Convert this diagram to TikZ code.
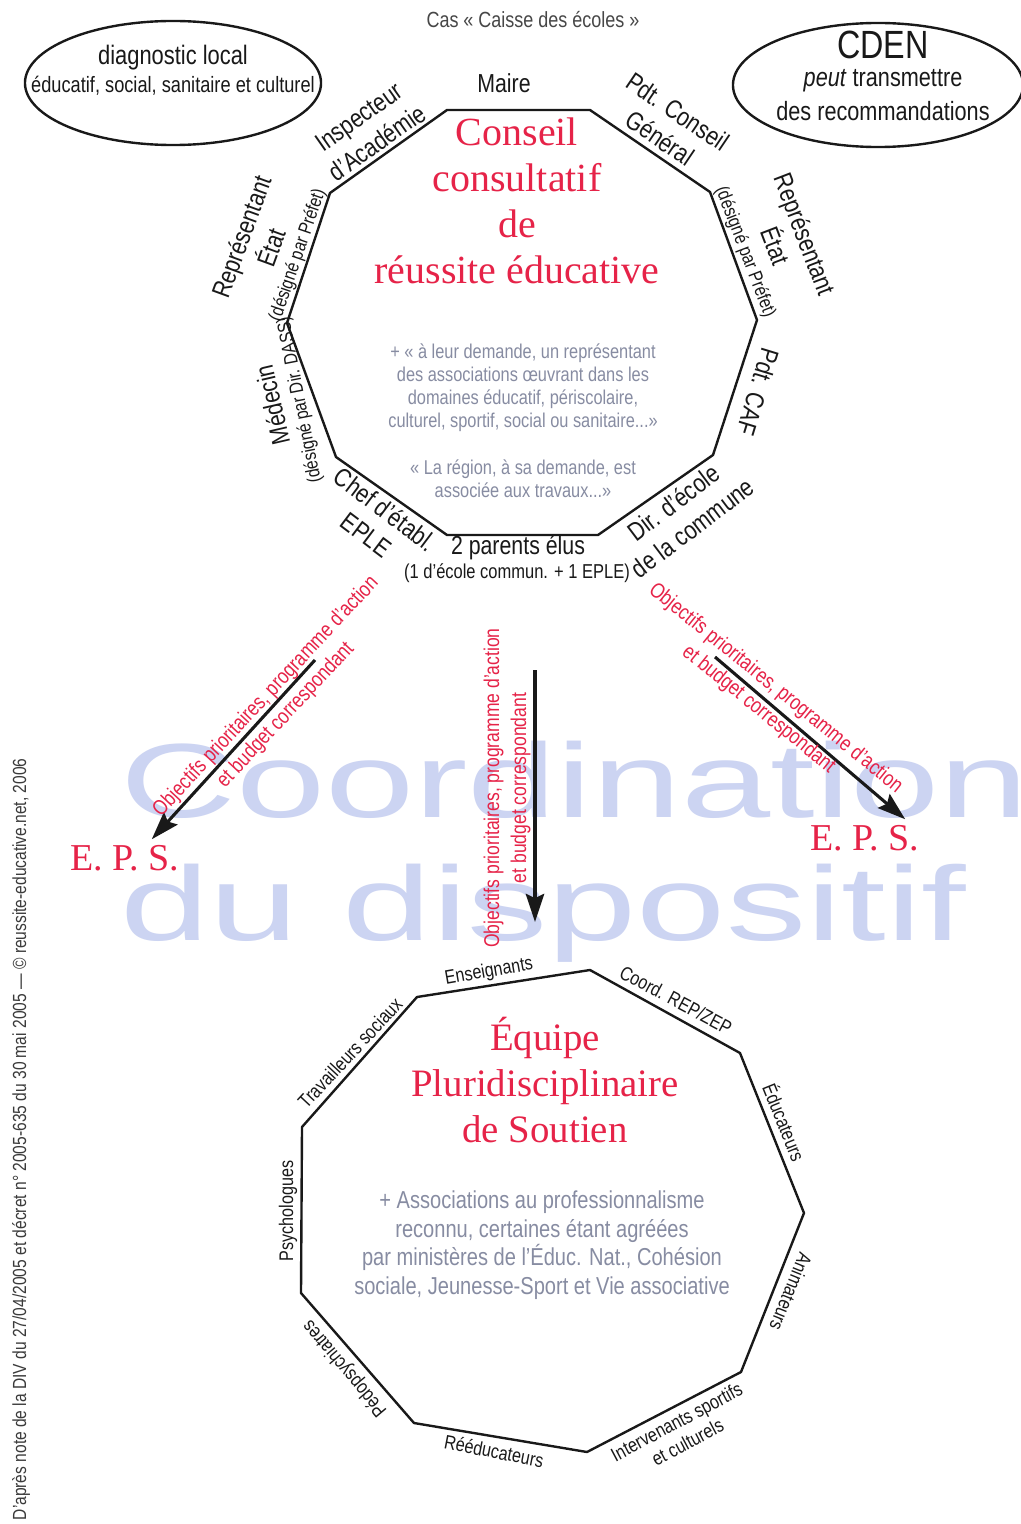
\documentclass[tikz,border=0pt]{standalone}
\usepackage{fontspec}
\usepackage{graphicx}
\setmainfont{Liberation Sans}[FakeStretch=0.82]
\newfontfamily\serifred{Liberation Serif}
\newfontfamily\wmfont{Liberation Sans}
\usetikzlibrary{shapes.geometric,arrows.meta}
\definecolor{rouge}{RGB}{230,35,72}
\definecolor{grisbleu}{RGB}{135,140,162}
\definecolor{filigrane}{RGB}{204,212,242}
\definecolor{encre}{RGB}{25,25,25}
\tikzset{
  lbl/.style={font=\fontsize{18.5}{22.5}\selectfont,text=encre,align=center,inner sep=0pt},
  petit/.style={font=\fontsize{13.6}{16}\selectfont,text=encre,inner sep=0pt},
  mini/.style={font=\fontsize{14}{16.5}\selectfont,text=encre,align=center,inner sep=0pt},
  titre/.style={font=\serifred\fontsize{28.4}{32.7}\selectfont,text=rouge,align=center,inner sep=0pt},
  note/.style={font=\fontsize{14.2}{16.4}\selectfont,text=grisbleu,align=center,inner sep=0pt},
  oblabel/.style={font=\fontsize{15.2}{19.2}\selectfont,text=rouge,align=center,inner sep=0pt},
  epsbox/.style={font=\serifred\fontsize{27}{30}\selectfont,text=rouge,inner sep=4pt},
  fleche/.style={draw=encre,line width=2.2pt,-{Stealth[length=20pt,width=13pt,inset=3pt]}},
  bord/.style={draw=encre,line width=1.7pt,line join=round},
  bulle/.style={draw=encre,line width=1.7pt,ellipse,minimum height=3.1cm},
  filig/.style={anchor=base west,inner sep=0pt,text=filigrane,font=\wmfont\fontsize{75}{75}\selectfont}
}
\begin{document}
\begin{tikzpicture}[x=0.025cm,y=-0.025cm]
\useasboundingbox (0,0) rectangle (1020,1524);
\fill[white] (0,0) rectangle (1020,1524);

\node[filig] (coord) at (120,817) {\scalebox{1.52}[1]{Coordination}};
\node[filig] (dispo) at (120,940) {\scalebox{1.52}[1]{du dispositif}};

\node[font=\fontsize{15.6}{18}\selectfont,text=encre!80,inner sep=0pt] (cas) at (533,20) {Cas « Caisse des écoles »};

\node[bulle,minimum width=7.4cm] (diag) at (173,83) {};
\node[lbl,font=\fontsize{19}{22}\selectfont] (diagA) at (173,58) {diagnostic local};
\node[lbl,font=\fontsize{15.8}{18}\selectfont] (diagB) at (173,86) {éducatif, social, sanitaire et culturel};

\node[bulle,minimum width=7.25cm] (cden) at (878,85) {};
\node[lbl,font=\fontsize{28}{30}\selectfont] (cdenA) at (883,45) {CDEN};
\node[lbl,font=\fontsize{18.8}{22}\selectfont] (cdenB) at (883,81) {\textit{peut} transmettre};
\node[lbl,font=\fontsize{18.8}{22}\selectfont] (cdenC) at (883,111) {des recommandations};

\draw[bord] (447,110) -- (590,110) -- (710,192) -- (757,320) -- (713,455) -- (598,535)
  -- (447,535) -- (336,457) -- (287,323) -- (330,193) -- cycle;

\node[lbl] (maire) at (504,83) {Maire};
\node[lbl,rotate=35] (inspec) at (368,130) {Inspecteur\\d'Académie};
\node[lbl,rotate=-34] (pdtcg) at (669,125) {Pdt. Conseil\\Général};
\node[lbl,rotate=-69] (repD) at (790,240) {Représentant\\État};
\node[petit,rotate=-69] (prefD) at (745,252) {(désigné par Préfet)};
\node[lbl,rotate=70] (repG) at (256,242) {Représentant\\État};
\node[petit,rotate=71] (prefG) at (298,255) {(désigné par Préfet)};
\node[lbl,rotate=103] (medecin) at (272,405) {Médecin};
\node[petit,rotate=101] (dass) at (300,400) {(désigné par Dir. DASS)};
\node[lbl,rotate=-37] (chef) at (376,522) {Chef d'établ.\\EPLE};
\node[lbl] (parents) at (518,548) {2 parents élus};
\node[petit,font=\fontsize{14.3}{16}\selectfont] (parentsB) at (517,573) {(1 d'école commun. + 1 EPLE)};
\node[lbl,rotate=37] (direc) at (683,515) {Dir. d'école\\de la commune};
\node[lbl,rotate=-107] (caf) at (758,392) {Pdt. CAF};

\node[titre] (conseil) at (517,201) {Conseil\\consultatif\\de\\réussite éducative};
\node[note] (assoc) at (523,388) {+ « à leur demande, un représentant\\des associations œuvrant dans les\\domaines éducatif, périscolaire,\\culturel, sportif, social ou sanitaire...»};
\node[note] (region) at (523,479) {« La région, à sa demande, est\\associée aux travaux...»};

\node[epsbox] (epsL) at (125,858) {E. P. S.};
\node[epsbox] (epsR) at (865,838) {E. P. S.};
\coordinate (srcL) at (315,660);
\coordinate (srcM) at (535,670);
\coordinate (tipM) at (535,922);
\coordinate (srcR) at (715,657);
\draw[fleche] (srcL) -- (epsL.35);
\draw[fleche] (srcM) -- (tipM);
\draw[fleche] (srcR) -- (epsR.25);
\node[oblabel,rotate=47] (obL) at (276,706) {Objectifs prioritaires, programme d'action\\et budget correspondant};
\node[oblabel,rotate=90] (obM) at (507,788) {Objectifs prioritaires, programme d'action\\et budget correspondant};
\node[oblabel,rotate=-39] (obR) at (767,699) {Objectifs prioritaires, programme d'action\\et budget correspondant};

\draw[bord] (417,997) -- (590,970) -- (740,1053) -- (804,1213) -- (741,1372) -- (587,1452)
  -- (414,1423) -- (301,1293) -- (302,1127) -- cycle;

\node[titre,font=\serifred\fontsize{27.6}{32.4}\selectfont] (equipe) at (545,1080) {Équipe\\Pluridisciplinaire\\de Soutien};
\node[note,font=\fontsize{17.4}{20.3}\selectfont] (assoc2) at (542,1245) {+ Associations au professionnalisme\\reconnu, certaines étant agréées\\par ministères de l'Éduc. Nat., Cohésion\\sociale, Jeunesse-Sport et Vie associative};

\node[mini,rotate=10] (ens) at (489,972) {Enseignants};
\node[mini,rotate=-28] (zep) at (676,1000) {Coord. REP/ZEP};
\node[mini,rotate=-68] (educ) at (785,1122) {Éducateurs};
\node[mini,rotate=-112] (anim) at (791,1292) {Animateurs};
\node[mini,rotate=28] (interv) at (682,1432) {Intervenants sportifs\\et culturels};
\node[mini,rotate=-11] (reedu) at (494,1451) {Rééducateurs};
\node[mini,rotate=130] (pedo) at (345,1368) {Pédopsychiatres};
\node[mini,rotate=90] (psy) at (288,1211) {Psychologues};
\node[mini,rotate=47] (trav) at (350,1053) {Travailleurs sociaux};

\node[rotate=90,anchor=east,font=\fontsize{13.5}{15}\selectfont,text=encre!85,inner sep=0pt] (source) at (21,758) {D'après note de la DIV du 27/04/2005 et décret n° 2005-635 du 30 mai 2005 — © reussite-educative.net, 2006};
\end{tikzpicture}
\end{document}
